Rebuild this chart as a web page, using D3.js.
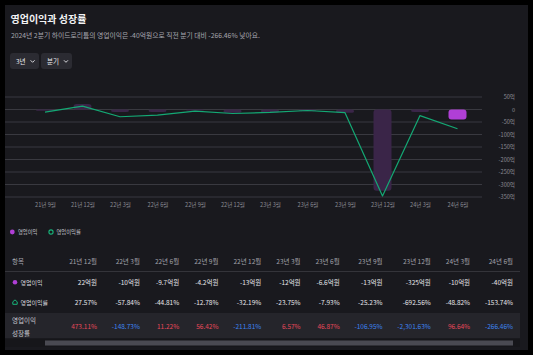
<!DOCTYPE html>
<html><head><meta charset="utf-8">
<script src="https://cdn.jsdelivr.net/npm/d3@7"></script>
<style>
html,body{margin:0;padding:0;background:#000;}
svg{display:block;font-family:"Noto Sans CJK KR","Noto Sans",sans-serif;}
</style></head>
<body><svg id="c" width="533" height="355"></svg>
<script>
// ---- data ----
const categories = ["21년 9월","21년 12월","22년 3월","22년 6월","22년 9월","22년 12월","23년 3월","23년 6월","23년 9월","23년 12월","24년 3월","24년 6월"];
const opProfit = [-5, 22, -10, -9.7, -4.2, -13, -12, -6.6, -13, -325, -10, -40]; // 억원
const opMargin = [-21, 27.57, -57.84, -44.81, -12.78, -32.19, -23.75, -7.93, -25.23, -692.56, -48.82, -153.74]; // %
const tableCategories = categories.slice(1);
const tableProfit = opProfit.slice(1);
const tableMargin = opMargin.slice(1);
const growth = [473.11, -148.73, 11.22, 56.42, -211.81, 6.57, 46.87, -106.95, -2301.63, 96.64, -266.46];
const yTicks = [50, 0, -50, -100, -150, -200, -250, -300, -350];

const title = "영업이익과 성장률";
const subtitle = "2024년 2분기 하이드로리튬의 영업이익은 -40억원으로 직전 분기 대비 -266.46% 낮아요.";

// ---- drawing ----
const svg = d3.select("#c");
const FONT = '"Noto Sans CJK KR","Noto Sans",sans-serif';
const loc = d3.formatLocale({decimal:".", thousands:",", grouping:[3], currency:["",""], minus:"-"});
const fmtG = loc.format(",.2f");

svg.append("rect").attr("x",5).attr("y",5).attr("width",523).attr("height",345).attr("fill","#19191e");

svg.append("text").attr("x",10.5).attr("y",22.5).attr("fill","#f2f2f4").attr("font-size",10).attr("font-weight",700).text(title);
svg.append("text").attr("x",11).attr("y",37.5).attr("fill","#a6a6ae").attr("font-size",6.8).text(subtitle);

// buttons
const btns = [{t:"3년",x:10,w:29},{t:"분기",x:41,w:31}];
btns.forEach(b=>{
  svg.append("rect").attr("x",b.x).attr("y",53).attr("width",b.w).attr("height",16).attr("rx",3).attr("fill","#2b2b32");
  const tx = svg.append("text").attr("x",b.x+6).attr("y",63.5).attr("fill","#ececf0").attr("font-size",6.5).text(b.t);
  const tw = tx.node().getComputedTextLength();
  const cx = b.x+6+tw+5;
  svg.append("path").attr("d",`M${cx},60.3 L${cx+2},62.3 L${cx+4},60.3`).attr("fill","none").attr("stroke","#ececf0").attr("stroke-width",0.9);
});

// scales
const x = d3.scalePoint().domain(categories).range([45, 457.5]);
const yBar = d3.scaleLinear().domain([50, -350]).range([97, 197]);
const yLine = d3.scaleLinear().domain([100, -700]).range([97, 197]);

// grid
svg.append("g").selectAll("line").data(yTicks).join("line")
  .attr("x1",5).attr("x2",482).attr("y1",d=>yBar(d)).attr("y2",d=>yBar(d))
  .attr("stroke","#393940").attr("stroke-width",1);

// y axis labels (right)
const yAxis = d3.axisRight(yBar).tickValues(yTicks).tickSize(0).tickPadding(0)
  .tickFormat(d=> d===0 ? "0" : d+"억");
const ya = svg.append("g").attr("transform","translate(515,0)").call(yAxis);
ya.select(".domain").remove();
ya.selectAll("text").attr("text-anchor","end").attr("fill","#8c8c94").attr("font-size",5.6).attr("font-family",FONT).attr("x",0);

// x axis labels
const xAxis = d3.axisBottom(x).tickSize(0).tickPadding(0);
const xa = svg.append("g").attr("transform","translate(0,203)").call(xAxis);
xa.select(".domain").remove();
xa.selectAll("text").attr("fill","#8c8c94").attr("font-size",5.6).attr("font-family",FONT).attr("dy","0.71em");

// bars
const bw = 18;
svg.append("g").selectAll("rect").data(opProfit).join("rect")
  .attr("x",(d,i)=>x(categories[i])-bw/2)
  .attr("y",d=>Math.min(yBar(d),yBar(0)))
  .attr("width",bw)
  .attr("height",d=>Math.max(0.8,Math.abs(yBar(d)-yBar(0))))
  .attr("rx",3)
  .attr("fill",(d,i)=> i===opProfit.length-1 ? "#b03fd6" : "#3a2548");

// line
const line = d3.line().x((d,i)=>x(categories[i])).y(d=>yLine(d));
svg.append("path").datum(opMargin).attr("d",line).attr("fill","none").attr("stroke","#14a874").attr("stroke-width",1.2).attr("stroke-linejoin","round");

// legend
svg.append("circle").attr("cx",12.3).attr("cy",232).attr("r",2.4).attr("fill","#b03fd6");
svg.append("text").attr("x",18).attr("y",234).attr("fill","#c4c4cc").attr("font-size",5.3).text("영업이익");
svg.append("circle").attr("cx",51).attr("cy",232).attr("r",2.1).attr("fill","none").attr("stroke","#17b47a").attr("stroke-width",1.1);
svg.append("text").attr("x",56.5).attr("y",234).attr("fill","#c4c4cc").attr("font-size",5.3).text("영업이익률");

// table
const FS = 6.5;
svg.append("rect").attr("x",5).attr("y",313).attr("width",515).attr("height",25).attr("fill","#25252b");
svg.append("line").attr("x1",5).attr("x2",520).attr("y1",271.5).attr("y2",271.5).attr("stroke","#34343a").attr("stroke-width",1);

const profitTxt = tableProfit.map(v=>v+"억원");
const marginTxt = tableMargin.map(v=>v.toFixed(2)+"%");
const growthTxt = growth.map(v=>fmtG(v)+"%");

// measure column widths
const meas = svg.append("text").attr("font-size",FS).attr("font-family",FONT);
function tw(s){ meas.text(s); return meas.node().getComputedTextLength(); }
const widths = tableCategories.map((c,i)=> d3.max([c,profitTxt[i],marginTxt[i],growthTxt[i]].map(tw)));
meas.remove();
const firstRight = 97, lastRight = 513;
const extra = (lastRight-firstRight - d3.sum(widths.slice(1))) / (widths.length-1);
const rights = [];
widths.forEach((w,i)=>{ rights.push(i===0 ? firstRight : rights[i-1]+w+extra); });

const rows = [
  {y:263.5, txt:tableCategories, fill:()=>"#a2a2aa"},
  {y:284.5, txt:profitTxt, fill:()=>"#e6e6ea"},
  {y:304.5, txt:marginTxt, fill:()=>"#e6e6ea"},
  {y:328.5, txt:growthTxt, fill:(i)=> growth[i]>=0 ? "#e5485a" : "#3d84f0"}
];
rows.forEach(r=>{
  svg.append("g").selectAll("text").data(r.txt).join("text")
    .attr("x",(d,i)=>rights[i]).attr("y",r.y).attr("text-anchor","end")
    .attr("font-size",FS).attr("fill",(d,i)=>r.fill(i)).text(d=>d);
});

// row labels
svg.append("text").attr("x",12).attr("y",263.5).attr("font-size",FS).attr("fill","#a2a2aa").text("항목");
svg.append("circle").attr("cx",15).attr("cy",282.3).attr("r",2.3).attr("fill","#b03fd6");
svg.append("text").attr("x",20.5).attr("y",284.5).attr("font-size",FS-0.5).attr("fill","#d8d8de").text("영업이익");
svg.append("path").attr("d","M12.8,304.3 L12.8,301.8 L15,299.9 L17.2,301.8 L17.2,304.3 Z").attr("fill","none").attr("stroke","#17b47a").attr("stroke-width",1);
svg.append("text").attr("x",20.5).attr("y",304.5).attr("font-size",FS-0.5).attr("fill","#d8d8de").text("영업이익률");
svg.append("text").attr("x",12).attr("y",322.5).attr("font-size",FS).attr("fill","#c8c8ce").text("영업이익");
svg.append("text").attr("x",12).attr("y",335.5).attr("font-size",FS).attr("fill","#c8c8ce").text("성장률");

// scrollbar
svg.append("rect").attr("x",5).attr("y",339).attr("width",515).attr("height",8).attr("fill","#16161a");
svg.append("rect").attr("x",45).attr("y",340.5).attr("width",468).attr("height",5).attr("fill","#4a4a52");
</script></body></html>
